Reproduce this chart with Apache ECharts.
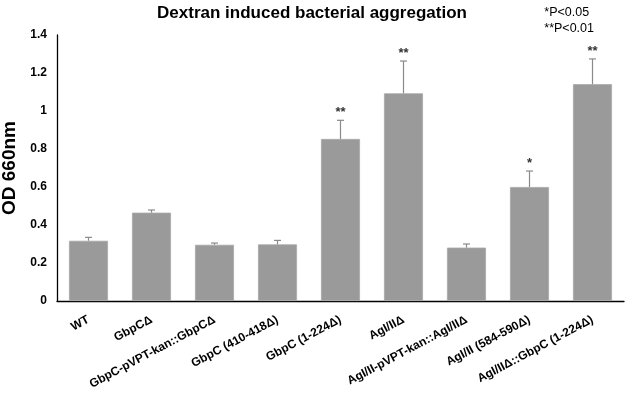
<!DOCTYPE html>
<html>

<head>
    <meta charset="utf-8">
    <title>Dextran induced bacterial aggregation</title>
    <script src="https://cdn.jsdelivr.net/npm/echarts@6/dist/echarts.min.js"></script>
    <style>
        html, body { margin: 0; padding: 0; background: #fff; }
    </style>
</head>

<body>
    <div id="main" style="width: 625px;height:401px;"></div>
    <script type="text/javascript">
        // strains on the x axis
        var categories = [
            'WT',
            'GbpCΔ',
            'GbpC-pVPT-kan::GbpCΔ',
            'GbpC (410-418Δ)',
            'GbpC (1-224Δ)',
            'AgI/IIΔ',
            'AgI/II-pVPT-kan::AgI/IIΔ',
            'AgI/II (584-590Δ)',
            'AgI/IIΔ::GbpC (1-224Δ)'
        ];
        // mean OD 660nm
        var odValues = [0.317, 0.465, 0.296, 0.298, 0.853, 1.093, 0.281, 0.600, 1.141];
        // upper error (sd)
        var odErrors = [0.018, 0.014, 0.009, 0.021, 0.098, 0.170, 0.019, 0.084, 0.133];
        // significance marks
        var stars = ['', '', '', '', '**', '**', '', '*', '**'];
        var legendNotes = ['*P<0.05', '**P<0.01'];

        var FONT = '"Liberation Sans", Arial, sans-serif';

        var myChart = echarts.init(document.getElementById('main'));

        var errData = odValues.map(function (v, i) {
            return [i, v, v + odErrors[i], stars[i]];
        });

        var option = {
            animation: false,
            textStyle: { fontFamily: FONT },
            title: {
                text: 'Dextran induced bacterial aggregation',
                left: 307,
                top: 0,
                textAlign: 'center',
                textStyle: { fontFamily: FONT, fontSize: 17, fontWeight: 'bold', color: '#000' }
            },
            graphic: [{
                type: 'text',
                right: 31,
                top: 5,
                style: {
                    text: legendNotes.join('\n'),
                    align: 'right',
                    font: '12.5px ' + FONT,
                    fill: '#000',
                    lineHeight: 16
                }
            }],
            grid: {
                left: 57,
                right: 1,
                top: 35,
                bottom: 100,
                containLabel: false,
                outerBoundsMode: 'none'
            },
            xAxis: {
                type: 'category',
                data: categories,
                axisLine: { lineStyle: { color: '#000', width: 1.3 } },
                axisTick: { show: false },
                axisLabel: {
                    rotate: 28,
                    interval: 0,
                    margin: 18,
                    fontFamily: FONT,
                    fontSize: 12,
                    fontWeight: 'bold',
                    color: '#000'
                }
            },
            yAxis: {
                type: 'value',
                min: 0,
                max: 1.4,
                interval: 0.2,
                name: 'OD 660nm',
                nameLocation: 'middle',
                nameGap: 38,
                nameTextStyle: { fontFamily: FONT, fontSize: 19, fontWeight: 'bold', color: '#000' },
                splitLine: { show: false },
                axisLine: { show: true, lineStyle: { color: '#000', width: 1.3 } },
                axisTick: { show: false },
                axisLabel: {
                    margin: 10,
                    fontFamily: FONT,
                    fontSize: 12,
                    fontWeight: 'bold',
                    color: '#000'
                }
            },
            series: [{
                type: 'bar',
                data: odValues,
                barWidth: 39,
                itemStyle: { color: '#9a9a9a', borderColor: '#a8a8a8', borderWidth: 0.8 }
            }, {
                type: 'custom',
                data: errData,
                z: 5,
                renderItem: function (params, api) {
                    var base = api.coord([api.value(0), api.value(1)]);
                    var top = api.coord([api.value(0), api.value(2)]);
                    var capW = 3.5;
                    var star = stars[params.dataIndex];
                    var style = { stroke: '#8a8a8a', lineWidth: 1.2 };
                    var children = [{
                        type: 'line',
                        shape: { x1: base[0], y1: base[1], x2: top[0], y2: top[1] },
                        style: style
                    }, {
                        type: 'line',
                        shape: { x1: top[0] - capW, y1: top[1], x2: top[0] + capW, y2: top[1] },
                        style: style
                    }];
                    if (star) {
                        children.push({
                            type: 'text',
                            style: {
                                text: star,
                                x: top[0],
                                y: top[1] - 1,
                                align: 'center',
                                verticalAlign: 'bottom',
                                font: 'bold 13px ' + FONT,
                                fill: '#333'
                            }
                        });
                    }
                    return { type: 'group', children: children };
                }
            }]
        };

        myChart.setOption(option);
    </script>
</body>

</html>
